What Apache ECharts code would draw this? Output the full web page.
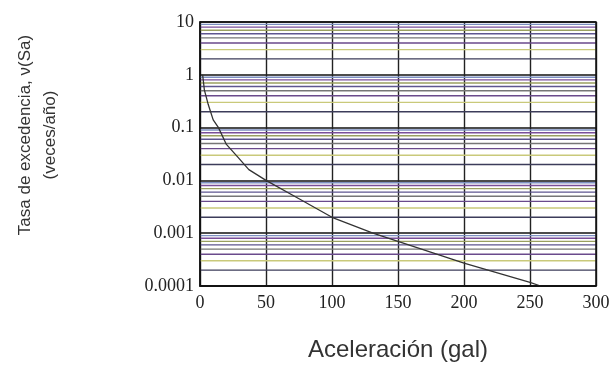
<!DOCTYPE html>
<html>
<head>
<meta charset="utf-8">
<script src="https://cdn.jsdelivr.net/npm/echarts@6/dist/echarts.min.js"></script>
<style>
  html, body { margin: 0; padding: 0; background: #fff; }
  #main { width: 615px; height: 369px; }
</style>
</head>
<body>
<div id="main"></div>
<script>
// aceleracion (gal) vs tasa de excedencia
const accel = [2, 3.3, 6.3, 10, 14, 20, 29, 37, 50, 75, 100, 131, 150, 200, 250, 258];
const rate = [1, 0.52, 0.27, 0.14, 0.1, 0.048, 0.027, 0.016, 0.01, 0.0045, 0.002, 0.001, 0.0007, 0.00027, 0.000117, 0.0001];

const yLabels = ['0.0001', '0.001', '0.01', '0.1', '1', '10'];
const decades = [0.0001, 0.001, 0.01, 0.1, 1];
const minorMult = [2, 3, 4, 5, 6, 7, 8, 9];
// colores de las lineas menores (escaneo)
const minorColors = ['#3c3c5a', '#c9c97a', '#6a4a8c', '#767676', '#5e5690', '#9aa060', '#7a4f9a', '#7d90c2'];

const chart = echarts.init(document.getElementById('main'));

// una serie por multiplo, segmentos separados por '-'
let minorSeries = minorMult.map(function (m, i) {
    let pts = [];
    decades.forEach(function (d) {
        pts.push([0, d * m], [300, d * m], '-');
    });
    return {
        type: 'line',
        data: pts,
        symbol: 'none',
        silent: true,
        connectNulls: false,
        lineStyle: { color: minorColors[i], width: 1.4 },
        z: 1
    };
});

const option = {
    backgroundColor: '#ffffff',
    animation: false,
    grid: { left: 200, right: 19, top: 22, bottom: 83 },
    xAxis: {
        type: 'value',
        min: 0,
        max: 300,
        interval: 50,
        axisLine: { show: true, lineStyle: { color: '#111', width: 1.5 } },
        axisTick: { show: false },
        axisLabel: {
            color: '#222',
            fontFamily: 'Liberation Serif',
            fontSize: 18,
            margin: 8
        },
        splitLine: { show: true, lineStyle: { color: '#222', width: 1.4 } }
    },
    yAxis: {
        type: 'log',
        logBase: 10,
        min: 0.0001,
        max: 10,
        axisLine: { show: true, lineStyle: { color: '#111', width: 1.5 } },
        axisTick: { show: false },
        axisLabel: {
            color: '#222',
            fontFamily: 'Liberation Serif',
            fontSize: 18,
            margin: 6,
            formatter: function (v) {
                return yLabels[Math.round(Math.log10(v)) + 4];
            }
        },
        splitLine: { show: true, lineStyle: { color: '#111', width: 1.5 } }
    },
    graphic: [
        {
            type: 'rect',
            shape: { x: 200, y: 22, width: 396, height: 264 },
            style: { fill: 'none', stroke: '#111', lineWidth: 1.5 },
            z: 100
        },
        {
            type: 'text',
            x: 25, y: 135,
            rotation: Math.PI / 2,
            style: {
                text: 'Tasa de excedencia, ν(Sa)',
                fontFamily: 'Liberation Sans',
                fontSize: 17,
                fill: '#333',
                textAlign: 'center',
                textVerticalAlign: 'middle'
            }
        },
        {
            type: 'text',
            x: 50, y: 135,
            rotation: Math.PI / 2,
            style: {
                text: '(veces/año)',
                fontFamily: 'Liberation Sans',
                fontSize: 17,
                fill: '#333',
                textAlign: 'center',
                textVerticalAlign: 'middle'
            }
        },
        {
            type: 'text',
            x: 398, y: 350,
            style: {
                text: 'Aceleración (gal)',
                fontFamily: 'Liberation Sans',
                fontSize: 24,
                fill: '#333',
                textAlign: 'center',
                textVerticalAlign: 'middle'
            }
        }
    ],
    series: minorSeries.concat([{
        type: 'line',
        data: accel.map(function (a, i) { return [a, rate[i]]; }),
        smooth: false,
        symbol: 'none',
        lineStyle: { color: '#333', width: 1.3 },
        z: 10
    }])
};

chart.setOption(option);
</script>
</body>
</html>
